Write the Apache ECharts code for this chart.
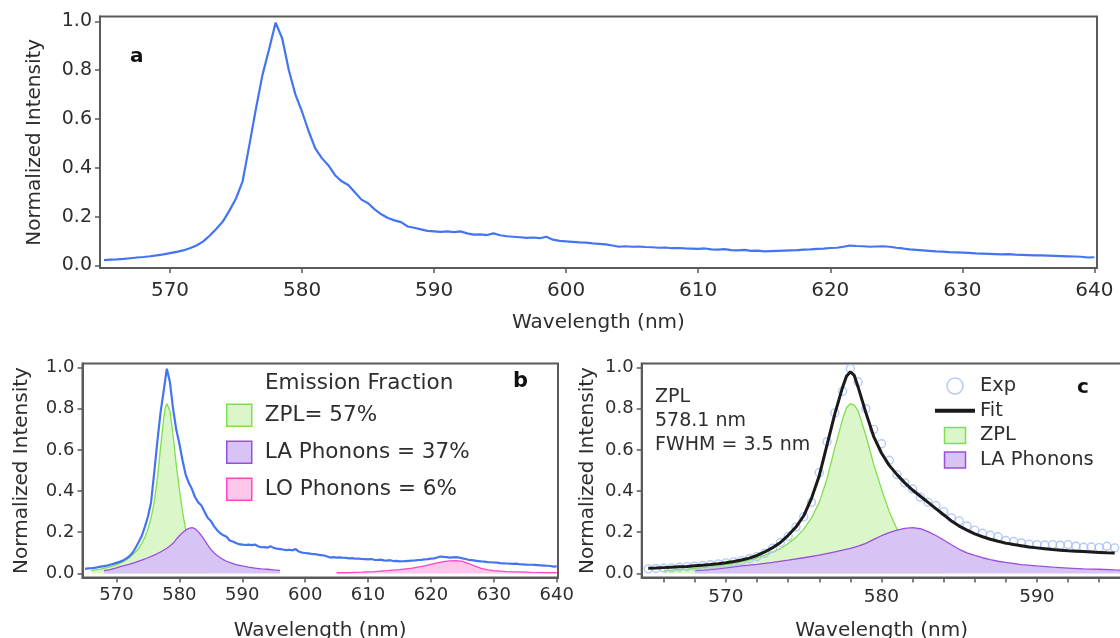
<!DOCTYPE html>
<html><head><meta charset="utf-8">
<script src="https://cdn.jsdelivr.net/npm/echarts@6/dist/echarts.min.js"></script>
<style>html,body{margin:0;padding:0;background:#fff}#chart{width:1120px;height:638px}</style>
</head><body><div id="chart"></div>
<script>
// ---- Measured spectrum (normalized intensity vs wavelength, nm) ----
const specWl = [565,565.5,566,566.5,567,567.5,568,568.5,569,569.5,570,570.5,571,571.5,572,572.5,573,573.5,574,574.5,
575,575.5,576,576.5,577,577.5,578,578.5,579,579.5,580,580.5,581,581.5,582,582.5,583,583.5,584,584.5,
585,585.5,586,586.5,587,587.5,588,588.5,589,589.5,590,590.5,591,591.5,592,592.5,593,593.5,594,594.5,
595,595.5,596,596.5,597,597.5,598,598.5,599,599.5,600,600.5,601,601.5,602,602.5,603,603.5,604,604.5,
605,605.5,606,606.5,607,607.5,608,608.5,609,609.5,610,610.5,611,611.5,612,612.5,613,613.5,614,614.5,
615,615.5,616,616.5,617,617.5,618,618.5,619,619.5,620,620.5,621,621.5,622,622.5,623,623.5,624,624.5,
625,625.5,626,626.5,627,627.5,628,628.5,629,629.5,630,630.5,631,631.5,632,632.5,633,633.5,634,634.5,
635,635.5,636,636.5,637,637.5,638,638.5,639,639.5,640];
const specI = [0.022,0.024,0.025,0.027,0.030,0.033,0.035,0.038,0.042,0.046,0.051,0.056,0.062,0.071,0.082,0.098,0.122,0.150,0.180,0.225,
0.275,0.345,0.490,0.640,0.780,0.885,0.995,0.930,0.800,0.700,0.630,0.550,0.480,0.440,0.410,0.370,0.345,0.330,0.300,0.270,
0.255,0.230,0.210,0.195,0.185,0.178,0.160,0.155,0.148,0.142,0.140,0.138,0.140,0.137,0.140,0.132,0.127,0.128,0.125,0.132,
0.124,0.120,0.118,0.116,0.113,0.115,0.112,0.118,0.106,0.101,0.099,0.097,0.095,0.094,0.091,0.089,0.087,0.082,0.077,0.079,
0.077,0.078,0.076,0.075,0.073,0.074,0.071,0.072,0.070,0.069,0.068,0.070,0.066,0.065,0.067,0.063,0.062,0.064,0.060,0.061,
0.058,0.059,0.060,0.061,0.062,0.063,0.065,0.066,0.068,0.069,0.072,0.073,0.077,0.082,0.080,0.079,0.077,0.078,0.079,0.077,
0.073,0.070,0.066,0.064,0.062,0.060,0.058,0.057,0.055,0.054,0.053,0.052,0.050,0.049,0.048,0.047,0.046,0.047,0.045,0.044,
0.043,0.042,0.042,0.041,0.040,0.039,0.038,0.037,0.036,0.033,0.034];

// ---- Total fit (panel c) ----
const fitWl = [565,565.5,566,566.5,567,567.5,568,568.5,569,569.5,570,570.5,571,571.5,572,572.5,573,573.5,574,574.5,
575,575.5,576,576.5,577,577.5,577.75,578,578.25,578.5,579,579.5,580,580.5,581,581.5,582,582.5,583,583.5,584,584.5,
585,585.5,586,586.5,587,587.5,588,588.5,589,589.5,590,590.5,591,591.5,592,592.5,593,593.5,594,594.5,595];
const fitI = [0.025,0.026,0.028,0.030,0.032,0.034,0.037,0.040,0.043,0.047,0.052,0.058,0.065,0.074,0.087,0.104,0.125,0.150,0.185,0.225,
0.280,0.365,0.475,0.625,0.775,0.905,0.958,0.980,0.962,0.905,0.780,0.665,0.585,0.525,0.480,0.440,0.405,0.375,0.345,0.315,0.285,0.255,
0.230,0.210,0.192,0.178,0.166,0.156,0.147,0.140,0.134,0.128,0.124,0.120,0.116,0.113,0.110,0.108,0.106,0.104,0.102,0.100,0.099];

// ---- ZPL component ----
const zplWl = [566,566.5,567,567.5,568,568.5,569,569.5,570,570.5,571,571.5,572,572.5,573,573.5,574,574.5,575,575.5,
576,576.5,577,577.5,577.75,578,578.25,578.5,579,579.5,580,580.5,581,581.5,582,582.5,583,584];
const zplI = [0.014,0.016,0.019,0.021,0.025,0.028,0.032,0.037,0.043,0.049,0.056,0.065,0.075,0.089,0.104,0.120,0.145,0.175,0.215,0.270,
0.345,0.460,0.610,0.750,0.805,0.825,0.818,0.790,0.670,0.530,0.410,0.300,0.215,0.160,0.120,0.090,0.070,0.045];

// ---- LA phonon component ----
const laWl = [568,569,570,571,572,573,574,575,576,577,578,578.5,579,579.5,580,580.5,581,581.5,582,582.5,
583,583.5,584,584.5,585,585.5,586,586.5,587,587.5,588,589,590,591,592,593,594,595,596];
const laI = [0.013,0.018,0.027,0.036,0.044,0.053,0.064,0.076,0.089,0.104,0.122,0.133,0.146,0.165,0.183,0.198,0.210,0.219,0.222,0.217,
0.203,0.184,0.162,0.139,0.117,0.100,0.087,0.076,0.067,0.059,0.053,0.043,0.036,0.030,0.026,0.022,0.020,0.017,0.015];

// ---- LO phonon component ----
const loWl = [605,607,609,611,613,615,617,619,620,621,622,623,624,625,626,627,628,629,630,632,634,636,638,640];
const loI = [0.003,0.004,0.006,0.009,0.013,0.018,0.026,0.037,0.044,0.051,0.057,0.061,0.062,0.058,0.048,0.035,0.024,0.017,0.013,0.009,0.007,0.005,0.004,0.003];

// ---- ticks / labels ----
const xTicksAB = [570,580,590,600,610,620,630,640];
const xTicksC = [566,568,570,572,574,576,578,580,582,584,586,588,590,592,594];
const xLabelsC = [570,580,590];
const yTicks = [0,0.2,0.4,0.6,0.8,1.0];
const legendB = ['ZPL= 57%','LA Phonons = 37%','LO Phonons = 6%'];
const legendC = ['Exp','Fit','ZPL','LA Phonons'];
const annotC = ['ZPL','578.1 nm','FWHM = 3.5 nm'];

const FONT = 'DejaVu Sans';
const TXT = '#2e2e2e';
const FRAME = '#5a5a5a';
const BLUE = '#4374f2';
const ZPL_LINE = '#7ee04c', ZPL_FILL = '#dbf6c8';
const LA_LINE = '#9a4ee0', LA_FILL = '#d8c3f5';
const LO_LINE = '#ff45c4', LO_FILL = '#ffc6ec';
const EXP = '#a3bdf2';

const pairs = (xs, ys) => xs.map((x, i) => [x, ys[i]]);

function xAxisCfg(gi, min, max, ticks, labels, fs, margin, nameGap) {
  return {
    type: 'value', gridIndex: gi, min, max,
    name: 'Wavelength (nm)', nameLocation: 'middle', nameGap,
    nameTextStyle: { fontFamily: FONT, fontSize: 20, color: TXT },
    axisLine: { show: true, onZero: false, lineStyle: { color: FRAME, width: 2 } },
    axisTick: { show: true, inside: false, length: 5, customValues: ticks, lineStyle: { color: FRAME, width: 1.5 } },
    axisLabel: { show: true, customValues: labels, fontFamily: FONT, fontSize: fs, color: TXT, margin },
    splitLine: { show: false }
  };
}
function yAxisCfg(gi, min, max, fs, nameGap) {
  return {
    type: 'value', gridIndex: gi, min, max,
    name: 'Normalized Intensity', nameLocation: 'middle', nameGap,
    nameTextStyle: { fontFamily: FONT, fontSize: 20, color: TXT },
    axisLine: { show: true, onZero: false, lineStyle: { color: FRAME, width: 2 } },
    axisTick: { show: true, inside: false, length: 5, customValues: yTicks, lineStyle: { color: FRAME, width: 1.5 } },
    axisLabel: { show: true, customValues: yTicks, fontFamily: FONT, fontSize: fs, color: TXT, margin: 8,
      formatter: v => Number(v).toFixed(1) },
    splitLine: { show: false }
  };
}
function txt(x, y, text, size, bold) {
  return { type: 'text', x, y, silent: true,
    style: { text, fill: bold ? '#111' : TXT, font: (bold ? 'bold ' : '') + size + 'px "' + FONT + '"',
      verticalAlign: 'middle', align: 'left' } };
}

const chart = echarts.init(document.getElementById('chart'), null, { renderer: 'canvas' });
const cData = pairs(specWl, specI).filter(p => p[0] <= 595.5);

chart.setOption({
  animation: false,
  backgroundColor: '#ffffff',
  grid: [
    { left: 100, top: 16.5, width: 997, height: 251.5, show: true, borderColor: FRAME, borderWidth: 2, backgroundColor: 'transparent', outerBoundsMode: 'none' },
    { left: 82.5, top: 363.5, width: 475.5, height: 214, show: true, borderColor: FRAME, borderWidth: 2, backgroundColor: 'transparent', outerBoundsMode: 'none' },
    { left: 641.7, top: 363.5, width: 480, height: 214, show: true, borderColor: FRAME, borderWidth: 2, backgroundColor: 'transparent', outerBoundsMode: 'none' }
  ],
  xAxis: [
    xAxisCfg(0, 564.7, 640.2, xTicksAB, xTicksAB, 20, 13, 45),
    xAxisCfg(1, 564.6, 640.2, xTicksAB, xTicksAB, 18, 9, 43),
    xAxisCfg(2, 564.58, 595.45, xTicksC, xLabelsC, 18.5, 10, 43)
  ],
  yAxis: [
    yAxisCfg(0, -0.01, 1.02, 19, 55),
    yAxisCfg(1, -0.02, 1.02, 18, 51),
    yAxisCfg(2, -0.02, 1.02, 18, 44)
  ],
  legend: [
    { orient: 'vertical', left: 226, top: 403.5, padding: 0, itemWidth: 41, itemHeight: 22, itemGap: 13.5,
      selectedMode: false, textStyle: { fontFamily: FONT, fontSize: 21.5, color: TXT, lineHeight: 22 },
      data: [
        { name: legendB[0], icon: 'path://M0 0H25V22H0Z', itemStyle: { color: ZPL_FILL, borderColor: ZPL_LINE, borderWidth: 1.5 } },
        { name: legendB[1], icon: 'path://M0 0H25V22H0Z', itemStyle: { color: LA_FILL, borderColor: LA_LINE, borderWidth: 1.5 } },
        { name: legendB[2], icon: 'path://M0 0H25V22H0Z', itemStyle: { color: LO_FILL, borderColor: LO_LINE, borderWidth: 1.5 } }
      ] },
    { orient: 'vertical', left: 935, top: 376, padding: 0, itemWidth: 40, itemHeight: 16, itemGap: 4.7,
      selectedMode: false, textStyle: { fontFamily: FONT, fontSize: 19.5, color: TXT, lineHeight: 20 },
      data: [
        { name: legendC[0], icon: 'circle', itemStyle: { color: 'rgba(0,0,0,0)', borderColor: EXP, borderWidth: 1.5 } },
        { name: legendC[1], icon: 'path://M0 0H40V4H0Z', itemStyle: { color: '#1a1a1a', borderWidth: 0 } },
        { name: legendC[2], icon: 'path://M0 0H21V16H0Z', itemStyle: { color: ZPL_FILL, borderColor: ZPL_LINE, borderWidth: 1.5 } },
        { name: legendC[3], icon: 'path://M0 0H21V16H0Z', itemStyle: { color: LA_FILL, borderColor: LA_LINE, borderWidth: 1.5 } }
      ] }
  ],
  graphic: [
    txt(130, 57, 'a', 20, true),
    txt(513, 382, 'b', 21, true),
    txt(1077, 388, 'c', 20, true),
    txt(265, 383, 'Emission Fraction', 21.5, false),
    txt(655, 397.5, annotC[0], 19, false),
    txt(655, 421, annotC[1], 19, false),
    txt(655, 445, annotC[2], 19, false)
  ],
  series: [
    { type: 'line', name: 'Spectrum a', xAxisIndex: 0, yAxisIndex: 0, data: pairs(specWl, specI),
      symbol: 'none', lineStyle: { color: BLUE, width: 2.2 }, itemStyle: { color: BLUE }, z: 5, silent: true },
    { type: 'line', name: legendB[0], xAxisIndex: 1, yAxisIndex: 1, data: pairs(zplWl, zplI),
      symbol: 'none', lineStyle: { color: ZPL_LINE, width: 1.3 }, areaStyle: { color: ZPL_FILL, opacity: 1 }, itemStyle: { color: ZPL_LINE }, z: 2, silent: true },
    { type: 'line', name: legendB[1], xAxisIndex: 1, yAxisIndex: 1, data: pairs(laWl, laI),
      symbol: 'none', lineStyle: { color: LA_LINE, width: 1.3 }, areaStyle: { color: LA_FILL, opacity: 1 }, itemStyle: { color: LA_LINE }, z: 3, silent: true },
    { type: 'line', name: legendB[2], xAxisIndex: 1, yAxisIndex: 1, data: pairs(loWl, loI),
      symbol: 'none', lineStyle: { color: LO_LINE, width: 1.3 }, areaStyle: { color: LO_FILL, opacity: 1 }, itemStyle: { color: LO_LINE }, z: 3, silent: true },
    { type: 'line', name: 'Spectrum b', xAxisIndex: 1, yAxisIndex: 1, data: pairs(specWl, specI),
      symbol: 'none', lineStyle: { color: BLUE, width: 2.2 }, itemStyle: { color: BLUE }, z: 5, silent: true },
    { type: 'line', name: legendC[2], xAxisIndex: 2, yAxisIndex: 2, data: pairs(zplWl, zplI),
      symbol: 'none', lineStyle: { color: ZPL_LINE, width: 1.3 }, areaStyle: { color: ZPL_FILL, opacity: 1 }, itemStyle: { color: ZPL_LINE }, z: 2, silent: true },
    { type: 'line', name: legendC[3], xAxisIndex: 2, yAxisIndex: 2, data: pairs(laWl, laI),
      symbol: 'none', lineStyle: { color: LA_LINE, width: 1.3 }, areaStyle: { color: LA_FILL, opacity: 1 }, itemStyle: { color: LA_LINE }, z: 3, silent: true },
    { type: 'scatter', name: legendC[0], xAxisIndex: 2, yAxisIndex: 2, data: cData,
      symbol: 'circle', symbolSize: 8, itemStyle: { color: 'rgba(0,0,0,0)', borderColor: EXP, borderWidth: 1.4 }, z: 4, silent: true },
    { type: 'line', name: legendC[1], xAxisIndex: 2, yAxisIndex: 2, data: pairs(fitWl, fitI),
      symbol: 'none', lineStyle: { color: '#1a1a1a', width: 3 }, itemStyle: { color: '#1a1a1a' }, z: 5, silent: true }
  ]
});
</script>
</body></html>
